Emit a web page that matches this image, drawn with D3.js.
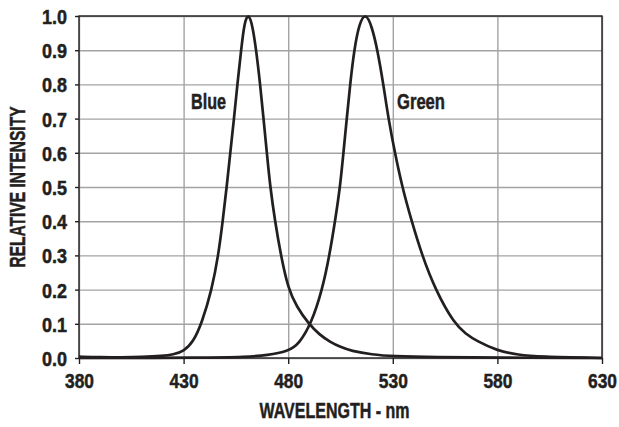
<!DOCTYPE html>
<html>
   <head>
      <script type="text/javascript" src="https://d3js.org/d3.v7.min.js"></script>
      <style>
         body { margin: 0; background: #fff; }
         text { font-family: "Liberation Sans", Arial, sans-serif; font-weight: bold; fill: #231f20;
                stroke: #231f20; stroke-width: 0.5px; }
         .grid line { stroke: #a3a3a3; stroke-width: 1.4px; }
         .grid path { display: none; }
         .axis path, .axis line { stroke: #231f20; stroke-width: 1.4px; }
         .line { fill: none; stroke: #231f20; stroke-width: 2.7px; }
      </style>
      <title>Relative Intensity</title>
   </head>

   <body>
      <script>
         // values
         const xTicks = [380, 430, 480, 530, 580, 630];
         const yTicks = [0, 0.1, 0.2, 0.3, 0.4, 0.5, 0.6, 0.7, 0.8, 0.9, 1.0];

         const blueNm = [380, 390, 400, 410, 420, 425, 430, 434.7, 438.6, 443.5, 446.6, 448.7, 450.6, 452.3,
                         454.1, 455.7, 457.5, 459, 461, 463, 464.7, 466.6, 468.2, 469.8, 471.4, 473.7, 476.5,
                         480.1, 484, 489.7, 495, 500, 505, 510, 520, 530, 550, 580, 630];
         const blueRel = [0.004, 0.002, 0.002, 0.003, 0.006, 0.01, 0.019, 0.048, 0.1, 0.2, 0.3, 0.4, 0.5, 0.6,
                          0.7, 0.8, 0.9, 0.98, 1.01, 0.97, 0.9, 0.8, 0.7, 0.6, 0.5, 0.4, 0.3,
                          0.2, 0.151, 0.1, 0.068, 0.047, 0.032, 0.021, 0.01, 0.005, 0.002, 0.001, 0.0];

         const greenNm = [380, 440, 460, 470, 480, 485, 491, 496.3, 499.7, 502.4, 504.8, 506.4, 508, 509.6,
                          511.5, 514, 517, 520, 522.7, 525.5, 527.9, 531, 534.5, 539, 544, 550.3, 559.4,
                          565, 570, 580, 590, 600, 630];
         const greenRel = [0.0, 0.001, 0.003, 0.008, 0.02, 0.04, 0.1, 0.2, 0.3, 0.4, 0.5, 0.6, 0.7, 0.8,
                           0.9, 0.98, 1.01, 0.97, 0.9, 0.8, 0.7, 0.6, 0.5, 0.4, 0.3, 0.2, 0.1,
                           0.07, 0.05, 0.021, 0.009, 0.004, 0.0];

         const margin = {top: 16, right: 17, bottom: 69, left: 79},
               width = 619 - margin.left - margin.right,
               height = 427 - margin.top - margin.bottom;

         const x = d3.scaleLinear().domain([380, 630]).range([0, width]),
               y = d3.scaleLinear().domain([0, 1]).range([height, 0]);

         const svg = d3.select("body").append("svg")
            .attr("width", 619)
            .attr("height", 427)
            .append("g").attr("transform",
               "translate(" + margin.left + "," + margin.top + ")");

         // grid
         svg.append("g").attr("class", "grid")
            .call(d3.axisLeft(y).tickValues(yTicks).tickSize(-width).tickFormat(""));
         svg.append("g").attr("class", "grid")
            .call(d3.axisBottom(x).tickValues(xTicks).tickSize(height).tickFormat(""));

         // frame
         svg.append("rect")
            .attr("width", width).attr("height", height)
            .attr("fill", "none").attr("stroke", "#231f20").attr("stroke-width", 1.4);

         // axes (condensed look via textLength)
         const xAxis = svg.append("g").attr("class", "axis")
            .attr("transform", "translate(0," + height + ")")
            .call(d3.axisBottom(x).tickValues(xTicks).tickSize(6).tickSizeOuter(0));
         xAxis.selectAll("text").attr("y", 30).attr("dy", 0).style("font-size", "21px")
            .attr("textLength", 29).attr("lengthAdjust", "spacingAndGlyphs");

         const yAxis = svg.append("g").attr("class", "axis")
            .call(d3.axisLeft(y).tickValues(yTicks).tickSize(4).tickSizeOuter(0).tickFormat(d3.format(".1f")));
         yAxis.selectAll("text").attr("x", -12).attr("dy", "0.36em").style("font-size", "21px")
            .attr("textLength", 25).attr("lengthAdjust", "spacingAndGlyphs");
         svg.selectAll(".axis .domain").remove();

         // curves
         const line = d3.line().x(d => x(d[0])).y(d => y(d[1])).curve(d3.curveBasis);
         svg.append("path").attr("class", "line").attr("d", line(d3.zip(blueNm, blueRel)));
         svg.append("path").attr("class", "line").attr("d", line(d3.zip(greenNm, greenRel)));

         // series labels
         svg.append("text").attr("x", 112).attr("y", 93).style("font-size", "22px")
            .attr("textLength", 35).attr("lengthAdjust", "spacingAndGlyphs").text("Blue");
         svg.append("text").attr("x", 318).attr("y", 93).style("font-size", "22px")
            .attr("textLength", 48).attr("lengthAdjust", "spacingAndGlyphs").text("Green");

         // axis titles
         svg.append("text")
            .attr("x", width / 2 - 6).attr("y", height + 60)
            .attr("text-anchor", "middle").style("font-size", "22px")
            .attr("textLength", 150).attr("lengthAdjust", "spacingAndGlyphs")
            .text("WAVELENGTH - nm");
         svg.append("text")
            .attr("transform", "rotate(-90)")
            .attr("x", -height / 2).attr("y", -54)
            .attr("text-anchor", "middle").style("font-size", "22px")
            .attr("textLength", 161).attr("lengthAdjust", "spacingAndGlyphs")
            .text("RELATIVE INTENSITY");
      </script>
   </body>
</html>
